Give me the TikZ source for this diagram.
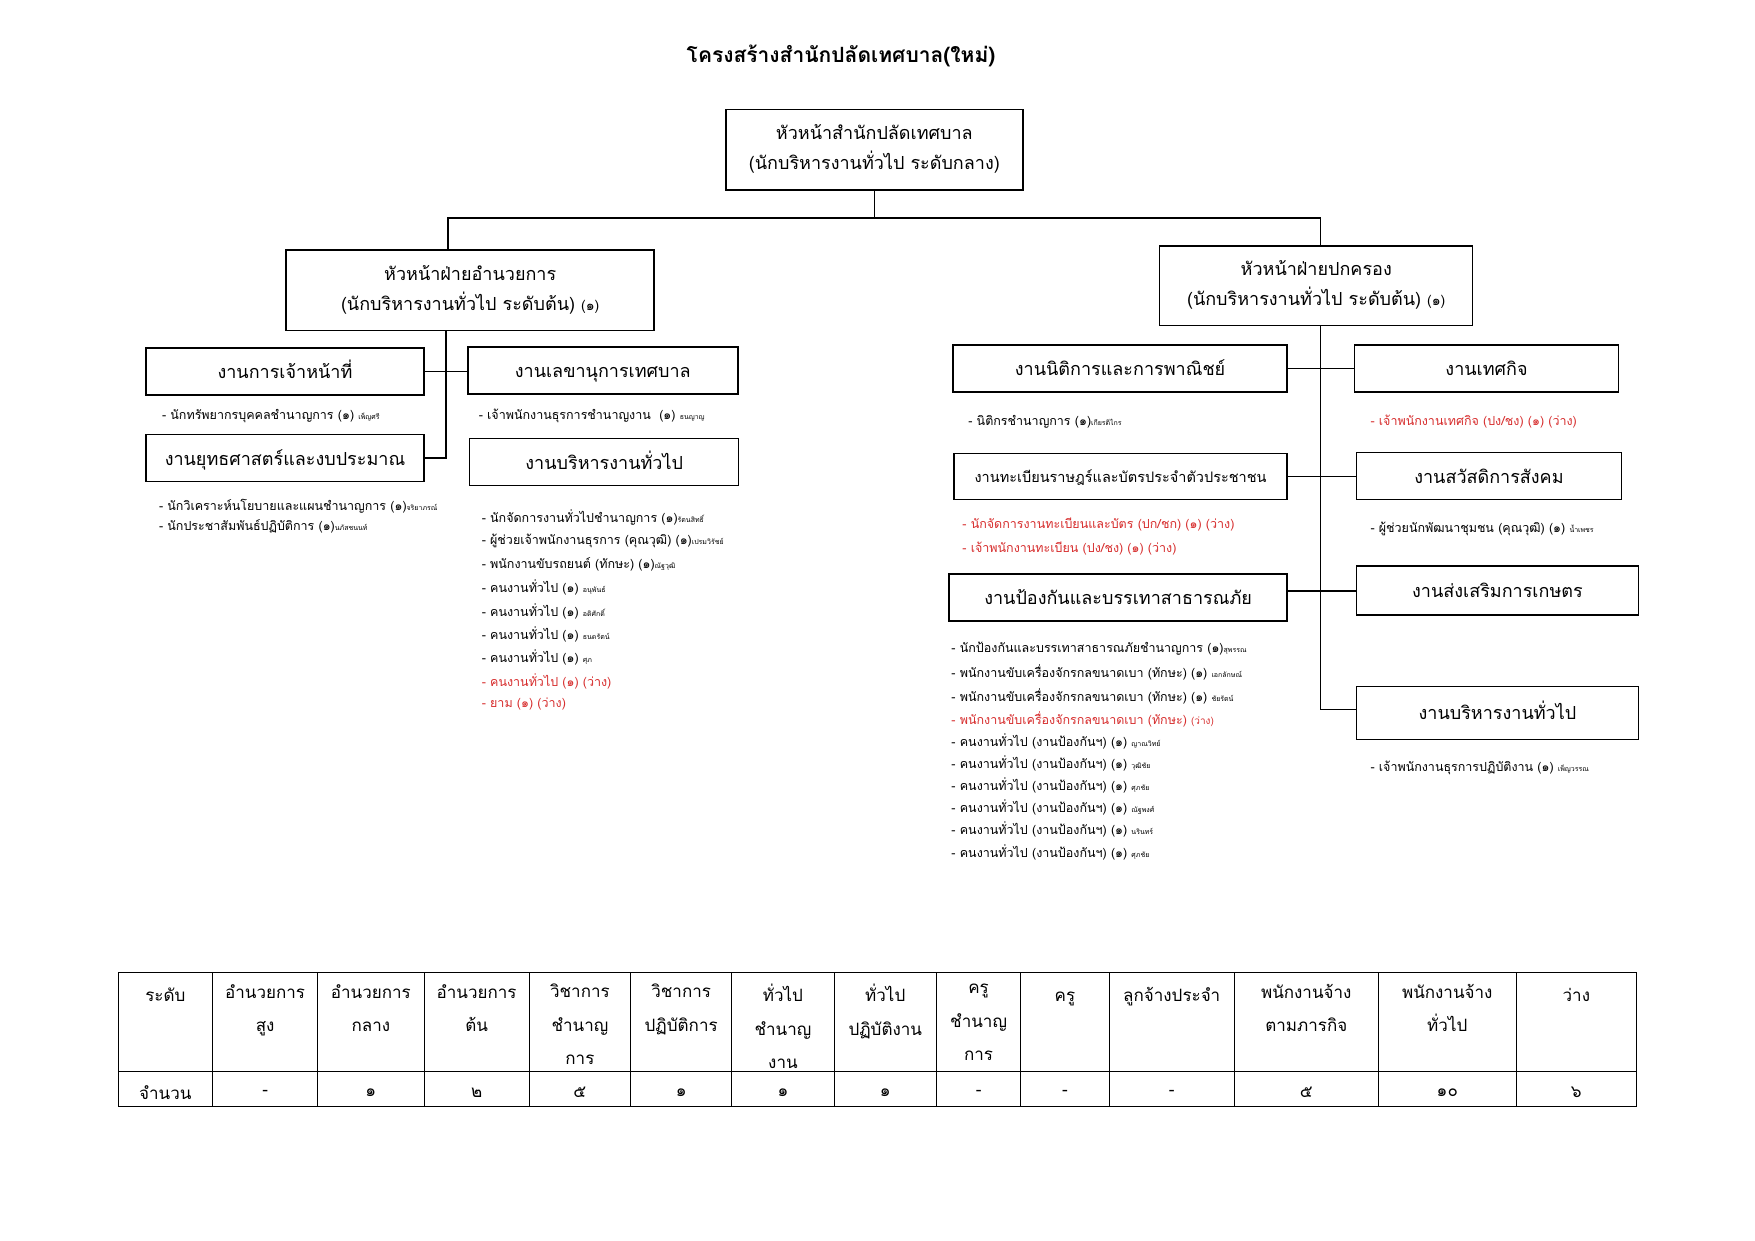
\documentclass[tikz,border=0pt]{standalone}
\usepackage{fontspec}
\setmainfont[Script=Thai]{Loma}
\definecolor{vred}{RGB}{215,45,45}
\tikzset{
  bx/.style={draw=black, line width=1.5pt, inner sep=0pt, align=center, font=\fontsize{18}{30}\selectfont,
    execute at begin node={\vphantom{ทั่}}, execute at end node={\vphantom{ญุ}}},
  ln/.style={draw=black, line width=1.5pt},
  itm/.style={anchor=west, inner sep=0pt, font=\fontsize{12.5}{15}\selectfont},
  ritm/.style={itm, text=vred},
  th/.style={anchor=north, inner sep=0pt, align=center, font=\fontsize{17}{33.5}\selectfont, execute at begin node={\rule{0pt}{17pt}}},
  td/.style={anchor=center, inner sep=0pt, font=\fontsize{17}{20}\selectfont},
  grid/.style={draw=black, line width=1pt}
}
\newcommand{\tn}[1]{{\fontsize{7}{8}\selectfont #1}}
\newcommand{\sm}[1]{{\fontsize{14}{18}\selectfont #1}}
\begin{document}
\begin{tikzpicture}[x=0.993pt,y=-0.995pt]
\useasboundingbox (0,0) rectangle (1767.4,1247.2);
\fill[white] (0,0) rectangle (1767.4,1247.2);

% title
\node[inner sep=0pt, font=\fontsize{21}{24}\selectfont\bfseries] (title) at (847,56) {โครงสร้างสำนักปลัดเทศบาล(ใหม่)};

% top box
\node[bx, minimum width=297pt, minimum height=80.5pt] (top) at (880.5,150.5) {หัวหน้าสำนักปลัดเทศบาล\\(นักบริหารงานทั่วไป ระดับกลาง)};

% heads
\node[bx, minimum width=368pt, minimum height=80.5pt] (lh) at (473.5,291.5) {หัวหน้าฝ่ายอำนวยการ\\(นักบริหารงานทั่วไป ระดับต้น) \sm{(๑)}};
\node[bx, minimum width=313pt, minimum height=79.5pt] (rh) at (1325.5,287) {หัวหน้าฝ่ายปกครอง\\(นักบริหารงานทั่วไป ระดับต้น) \sm{(๑)}};

\coordinate (hl) at (451,219);
\coordinate (hr) at (1330,219);
\draw[ln] (top.south) -- (top.south |- hl);
\draw[ln] (hl |- lh.north) -- (hl) -- (hr) -- (hr |- rh.north);

% left sections
\node[bx, minimum width=278pt, minimum height=47pt] (b1) at (287,373.5) {งานการเจ้าหน้าที่};
\node[bx, minimum width=270pt, minimum height=47pt] (b2) at (607,372.5) {งานเลขานุการเทศบาล};
\node[bx, minimum width=278pt, minimum height=47pt] (b3) at (287,460.5) {งานยุทธศาสตร์และงบประมาณ};
\node[bx, minimum width=269pt, minimum height=47pt] (b4) at (608.5,464.5) {งานบริหารงานทั่วไป};

\coordinate (ls) at (449,0);
\draw[ln] (ls |- lh.south) -- (ls |- b3.east) -- (b3.east);
\draw[ln] (b1.east) -- (b1.east -| b2.west);

\node[itm] (t1) at (163,418) {- นักทรัพยากรบุคคลชำนาญการ (๑) \tn{เพ็ญศรี}};
\node[itm] (t2) at (160,509) {- นักวิเคราะห์นโยบายและแผนชำนาญการ (๑)\tn{จริยาภรณ์}};
\node[itm] (t3) at (160,529) {- นักประชาสัมพันธ์ปฏิบัติการ (๑)\tn{นภัสชนนท์}};
\node[itm] (t4) at (482,418) {- เจ้าพนักงานธุรการชำนาญงาน~~(๑) \tn{ธนญาญ}};

\node[itm] (g1) at (485,520) {- นักจัดการงานทั่วไปชำนาญการ (๑)\tn{รัตนสิทธิ์}};
\node[itm] (g2) at (485,543.5) {- ผู้ช่วยเจ้าพนักงานธุรการ (คุณวุฒิ) (๑)\tn{เปรมวิรัชย์}};
\node[itm] (g3) at (485,567) {- พนักงานขับรถยนต์ (ทักษะ) (๑)\tn{ณัฐวุฒิ}};
\node[itm] (g4) at (485,590.5) {- คนงานทั่วไป (๑) \tn{อนุพันธ์}};
\node[itm] (g5) at (485,614) {- คนงานทั่วไป (๑) \tn{อดิศักดิ์}};
\node[itm] (g6) at (485,637.5) {- คนงานทั่วไป (๑) \tn{ธนดรัตน์}};
\node[itm] (g7) at (485,661) {- คนงานทั่วไป (๑) \tn{ศุภ}};
\node[ritm] (g8) at (485,684.5) {- คนงานทั่วไป (๑) (ว่าง)};
\node[ritm] (g9) at (485,708) {- ยาม (๑) (ว่าง)};

% right sections
\node[bx, minimum width=334pt, minimum height=47pt] (c1) at (1128,370.5) {งานนิติการและการพาณิชย์};
\node[bx, minimum width=264pt, minimum height=47pt] (c2) at (1497,370.5) {งานเทศกิจ};
\node[bx, minimum width=333pt, minimum height=46pt, font=\fontsize{14.5}{20}\selectfont] (c3) at (1128.5,479) {งานทะเบียนราษฎร์และบัตรประจำตัวประชาชน};
\node[bx, minimum width=265pt, minimum height=47pt] (c4) at (1499.5,478.5) {งานสวัสดิการสังคม};
\node[bx, minimum width=338pt, minimum height=47pt] (c5) at (1126,600.5) {งานป้องกันและบรรเทาสาธารณภัย};
\node[bx, minimum width=282pt, minimum height=49pt] (c6) at (1508,593.5) {งานส่งเสริมการเกษตร};
\node[bx, minimum width=282pt, minimum height=53pt] (c7) at (1508,716.5) {งานบริหารงานทั่วไป};

\coordinate (rs) at (1330,713);
\draw[ln] (rs |- rh.south) -- (rs) -- (rs -| c7.west);
\draw[ln] (c1.east) -- (c1.east -| c2.west);
\draw[ln] (c3.east) -- (c3.east -| c4.west);
\draw[ln] (c5.east |- 0,594) -- (c6.west |- 0,594);

\node[itm] (r1) at (975,424) {- นิติกรชำนาญการ (๑)\tn{เกียรติไกร}};
\node[ritm] (r2) at (1380,424) {- เจ้าพนักงานเทศกิจ (ปง/ชง) (๑) (ว่าง)};
\node[ritm] (r3) at (969,527) {- นักจัดการงานทะเบียนและบัตร (ปก/ชก) (๑) (ว่าง)};
\node[ritm] (r4) at (969,551) {- เจ้าพนักงานทะเบียน (ปง/ชง) (๑) (ว่าง)};
\node[itm] (r5) at (1380,532) {- ผู้ช่วยนักพัฒนาชุมชน (คุณวุฒิ) (๑) \tn{น้ำเพชร}};
\node[itm] (r6) at (1380,772) {- เจ้าพนักงานธุรการปฏิบัติงาน (๑) \tn{เพ็ญวรรณ}};

\node[itm] (p1) at (958,652) {- นักป้องกันและบรรเทาสาธารณภัยชำนาญการ (๑)\tn{สุพรรณ}};
\node[itm] (p2) at (958,676) {- พนักงานขับเครื่องจักรกลขนาดเบา (ทักษะ) (๑) \tn{เอกลักษณ์}};
\node[itm] (p3) at (958,699.5) {- พนักงานขับเครื่องจักรกลขนาดเบา (ทักษะ) (๑) \tn{ชัยรัตน์}};
\node[ritm] (p4) at (958,723) {- พนักงานขับเครื่องจักรกลขนาดเบา (ทักษะ) {\fontsize{10}{12}\selectfont(ว่าง)}};
\node[itm] (p5) at (958,745.5) {- คนงานทั่วไป (งานป้องกันฯ) (๑) \tn{ญาณวิทย์}};
\node[itm] (p6) at (958,767.5) {- คนงานทั่วไป (งานป้องกันฯ) (๑) \tn{วุฒิชัย}};
\node[itm] (p7) at (958,789.5) {- คนงานทั่วไป (งานป้องกันฯ) (๑) \tn{ศุภชัย}};
\node[itm] (p8) at (958,811.5) {- คนงานทั่วไป (งานป้องกันฯ) (๑) \tn{ณัฐพงศ์}};
\node[itm] (p9) at (958,834) {- คนงานทั่วไป (งานป้องกันฯ) (๑) \tn{นรินทร์}};
\node[itm] (p10) at (958,856.5) {- คนงานทั่วไป (งานป้องกันฯ) (๑) \tn{ศุภชัย}};

% table
\draw[grid] (119,977) rectangle (1648,1112);
\draw[grid] (119,1077) -- (1648,1077);
\foreach \xx in {214,320,427,533,635,737,840,943,1028,1117,1243,1388,1527}
  \draw[grid] (\xx,977) -- (\xx,1112);

\node[th] (h1) at (166.5,989) {ระดับ};
\node[th] (h2) at (267,989) {อำนวยการ\\สูง};
\node[th] (h3) at (373.5,989) {อำนวยการ\\กลาง};
\node[th] (h4) at (480,989) {อำนวยการ\\ต้น};
\node[th] (h5) at (584,989) {วิชาการ\\ชำนาญ\\การ};
\node[th] (h6) at (686,989) {วิชาการ\\ปฏิบัติการ};
\node[th] (h7) at (788.5,989) {ทั่วไป\\ชำนาญ\\งาน};
\node[th] (h8) at (891.5,989) {ทั่วไป\\ปฏิบัติงาน};
\node[th] (h9) at (985.5,989) {ครู\\ชำนาญ\\การ};
\node[th] (h10) at (1072.5,989) {ครู};
\node[th] (h11) at (1180,989) {ลูกจ้างประจำ};
\node[th] (h12) at (1315.5,989) {พนักงานจ้าง\\ตามภารกิจ};
\node[th] (h13) at (1457.5,989) {พนักงานจ้าง\\ทั่วไป};
\node[th] (h14) at (1587.5,989) {ว่าง};

\node[td] (d1) at (166.5,1098) {จำนวน};
\node[td] (d2) at (267,1098) {-};
\node[td] (d3) at (373.5,1098) {๑};
\node[td] (d4) at (480,1098) {๒};
\node[td] (d5) at (584,1098) {๕};
\node[td] (d6) at (686,1098) {๑};
\node[td] (d7) at (788.5,1098) {๑};
\node[td] (d8) at (891.5,1098) {๑};
\node[td] (d9) at (985.5,1098) {-};
\node[td] (d10) at (1072.5,1098) {-};
\node[td] (d11) at (1180,1098) {-};
\node[td] (d12) at (1315.5,1098) {๕};
\node[td] (d13) at (1457.5,1098) {๑๐};
\node[td] (d14) at (1587.5,1098) {๖};
\end{tikzpicture}
\end{document}
